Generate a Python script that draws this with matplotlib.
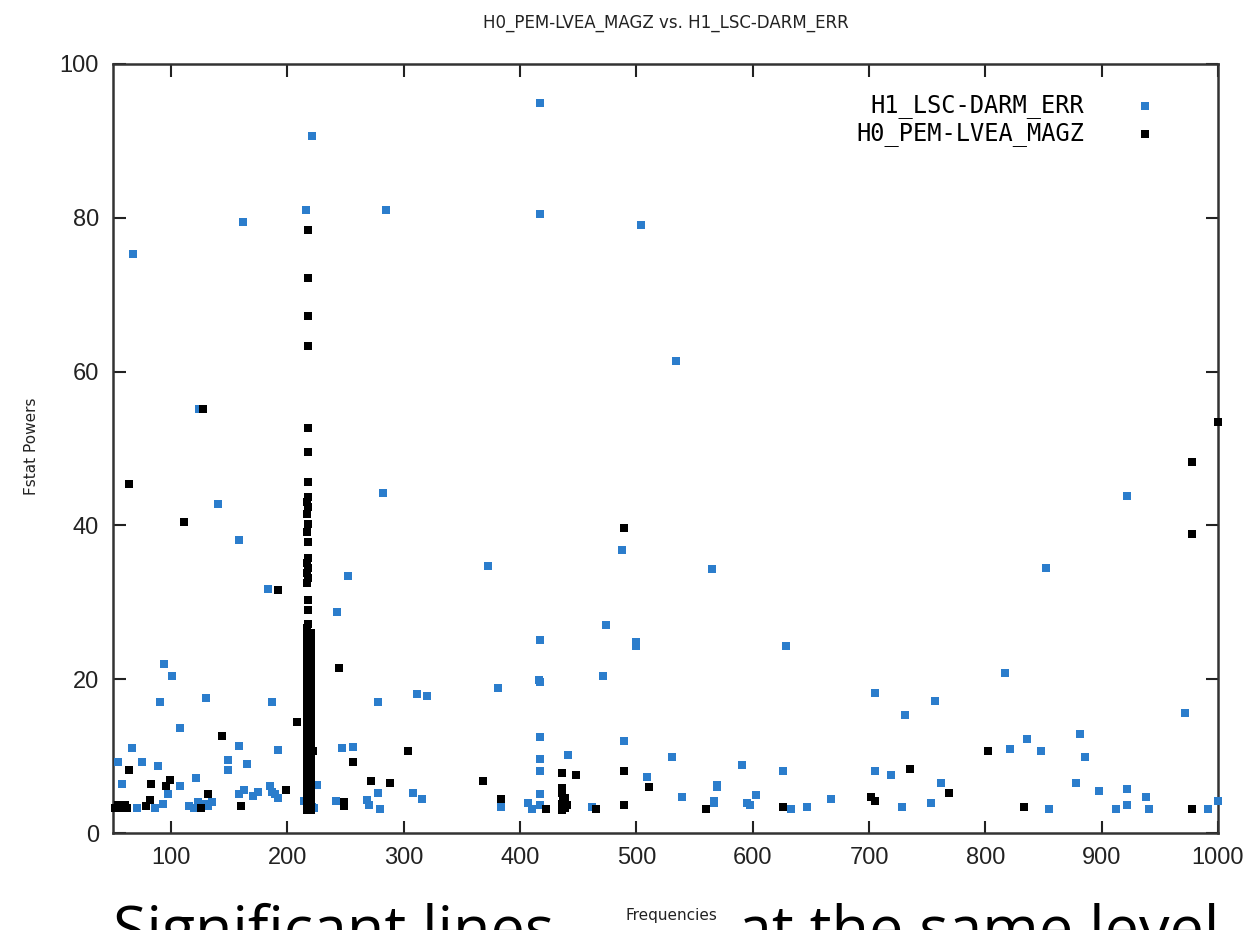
import numpy as np
import matplotlib
matplotlib.use("Agg")
import matplotlib.pyplot as plt

# H1_LSC-DARM_ERR points (frequency, Fstat power)
h1_freq = [54, 58, 66, 67, 71, 75, 86, 89, 90.5, 93, 94, 97, 101, 108, 108, 115, 120,
           121.5, 123, 123.6, 128, 130, 132, 135, 140.5, 149, 149, 158, 158, 158, 162,
           163, 165, 170, 175, 183.6, 185, 187, 187, 189, 192, 192, 214, 216, 218, 221,
           221, 223, 225, 242, 243, 247, 252, 256, 268, 270, 278, 278, 280, 282, 285,
           308, 311, 316, 320, 372, 381, 384, 407, 410, 417, 417, 417, 416, 417, 417,
           417, 417, 417, 417, 441, 462, 471, 474, 488, 489, 500, 500, 504, 509, 531,
           534, 539, 565, 567, 567, 569, 569, 591, 595, 598, 603, 626, 629, 633, 647,
           667, 705, 705, 719, 728, 731, 753, 757, 762, 817, 821, 836, 848, 852, 855,
           878, 881, 886, 898, 912, 922, 922, 922, 938, 941, 972, 991, 1000]
h1_power = [9.2, 6.4, 11.0, 75.3, 3.2, 9.2, 3.2, 8.7, 17.0, 3.8, 22.0, 5.1, 20.4, 13.6, 6.1,
            3.5, 3.2, 7.2, 4.0, 55.1, 3.8, 17.5, 3.5, 4.0, 42.8, 9.5, 8.2, 38.1, 11.3, 5.1,
            79.4, 5.6, 9.0, 4.8, 5.3, 31.7, 6.1, 5.3, 17.0, 5.1, 4.5, 10.8, 4.2, 81.0, 24.7,
            90.6, 3.4, 3.2, 6.2, 4.2, 28.7, 11.0, 33.4, 11.2, 4.3, 3.6, 17.0, 5.2, 3.1, 44.2,
            81.0, 5.2, 18.1, 4.4, 17.8, 34.7, 18.9, 3.4, 3.9, 3.1, 94.9, 80.5, 25.1, 19.9,
            19.6, 12.5, 9.6, 8.1, 5.1, 3.6, 10.1, 3.4, 20.4, 27.0, 36.8, 12.0, 24.8, 24.3,
            79.0, 7.3, 9.9, 61.4, 4.7, 34.3, 3.9, 4.2, 6.2, 6.0, 8.8, 3.9, 3.6, 4.9, 8.1,
            24.3, 3.1, 3.4, 4.4, 18.2, 8.1, 7.5, 3.4, 15.4, 3.9, 17.2, 6.5, 20.8, 10.9, 12.2,
            10.7, 34.5, 3.1, 6.5, 12.9, 9.9, 5.5, 3.1, 43.8, 5.7, 3.6, 4.7, 3.1, 15.6, 3.1, 4.2]

# H0_PEM-LVEA_MAGZ points
h0_freq = [52, 54, 55, 57, 59, 60, 62, 64, 64, 78, 82, 83, 96, 99, 111, 126, 127, 132, 144,
           160, 192, 199, 208, 222, 244, 249, 249, 256, 272, 288, 304, 368, 384, 422, 436,
           448, 465, 489, 489, 489, 511, 560, 626, 702, 705, 735, 769, 802, 833, 978, 978,
           978, 1000,
           436, 436, 436, 437, 437, 436, 436, 439, 439, 439, 440]
h0_power = [3.3, 3.6, 3.2, 3.4, 3.2, 3.6, 3.3, 8.2, 45.4, 3.5, 4.3, 6.4, 6.1, 6.9, 40.4, 3.2,
            55.2, 5.1, 12.6, 3.5, 31.6, 5.6, 14.4, 10.7, 21.5, 4.0, 3.5, 9.2, 6.8, 6.5, 10.7,
            6.8, 4.4, 3.1, 7.8, 7.5, 3.1, 39.7, 8.1, 3.6, 6.0, 3.1, 3.4, 4.7, 4.2, 8.3, 5.2,
            10.7, 3.4, 48.2, 38.9, 3.1, 53.4,
            3.0, 3.4, 3.8, 4.2, 4.6, 5.2, 5.9, 3.2, 4.0, 4.5, 3.6]

# the dense line of H0 points near 218 Hz, upper isolated part
col_top_freq = [218, 218, 218, 218, 218, 218, 218, 218, 217, 218, 217, 218, 217, 218,
                218, 217, 218, 217, 218, 217, 218, 218, 218, 217]
col_top_power = [78.4, 72.2, 67.2, 63.3, 52.6, 49.5, 45.6, 43.7, 43.1, 42.4, 41.5, 40.2,
                 39.1, 37.8, 35.8, 35.1, 34.5, 33.8, 33.2, 32.5, 30.3, 29.0, 27.2, 26.6]
# solid lower part of the line (two edges and a middle)
col_low_power = [26.0, 25.3, 24.6, 24.0, 23.4, 22.7, 22.1, 21.5, 20.8, 20.2, 19.6, 19.0,
                 18.3, 17.7, 17.1, 16.4, 15.8, 15.2, 14.6, 14.0, 13.3, 12.7, 12.1, 11.5,
                 10.8, 10.2, 9.6, 9.0, 8.3, 7.7, 7.1, 6.5, 5.9, 5.2, 4.6, 4.0, 3.4, 3.0]
col_edges = [216.5, 218.5, 220]

xticks = [100, 200, 300, 400, 500, 600, 700, 800, 900, 1000]
yticks = [0, 20, 40, 60, 80, 100]

blue = "#2b7dcc"
msize = 30

fig = plt.figure(figsize=(12.51, 9.30), dpi=100)
ax = fig.add_axes([0.0903, 0.1043, 0.8833, 0.8269])

ax.scatter(h1_freq, h1_power, marker="s", s=msize, color=blue, linewidths=0,
           label="H1_LSC-DARM_ERR", clip_on=False, zorder=3)
ax.scatter(h0_freq + col_top_freq, h0_power + col_top_power, marker="s", s=msize,
           color="black", linewidths=0, label="H0_PEM-LVEA_MAGZ", clip_on=False, zorder=4)
for f in col_edges:
    ax.scatter([f] * len(col_low_power), col_low_power, marker="s", s=msize,
               color="black", linewidths=0, zorder=4)

ax.set_xlim(50, 1000)
ax.set_ylim(0, 100)
ax.set_xticks(xticks)
ax.set_yticks(yticks)
ax.tick_params(direction="in", length=9, width=1.5, top=True, right=True,
               labelsize=17, pad=10, colors="#222222")
for lab in ax.get_xticklabels() + ax.get_yticklabels():
    lab.set_fontfamily("Liberation Sans")
for sp in ax.spines.values():
    sp.set_linewidth(1.8)
    sp.set_color("#333333")

ax.set_title("H0_PEM-LVEA_MAGZ vs. H1_LSC-DARM_ERR", fontsize=12, pad=26,
             color="#222222")
fig.text(0.025, 0.52, "Fstat Powers", rotation=90, fontsize=11, ha="center",
         va="center", color="#222222")

leg = ax.legend(loc="upper right", bbox_to_anchor=(0.975, 0.99), frameon=False,
                markerfirst=False, handletextpad=1.6, labelspacing=0.15,
                prop={"family": "DejaVu Sans Mono", "size": 17}, scatterpoints=1)

# cut-off slide text under the chart
fig.text(0.09, -0.02, "Significant lines", fontsize=44,
         family="Open Sans", ha="left", va="baseline", color="black")
fig.text(0.59, -0.02, "at the same level", fontsize=44,
         family="Open Sans", ha="left", va="baseline", color="black")
fig.text(0.537, 0.016, "Frequencies", fontsize=11, ha="center", va="center",
         color="#222222", zorder=5)

fig.savefig("out.png", dpi=100)
